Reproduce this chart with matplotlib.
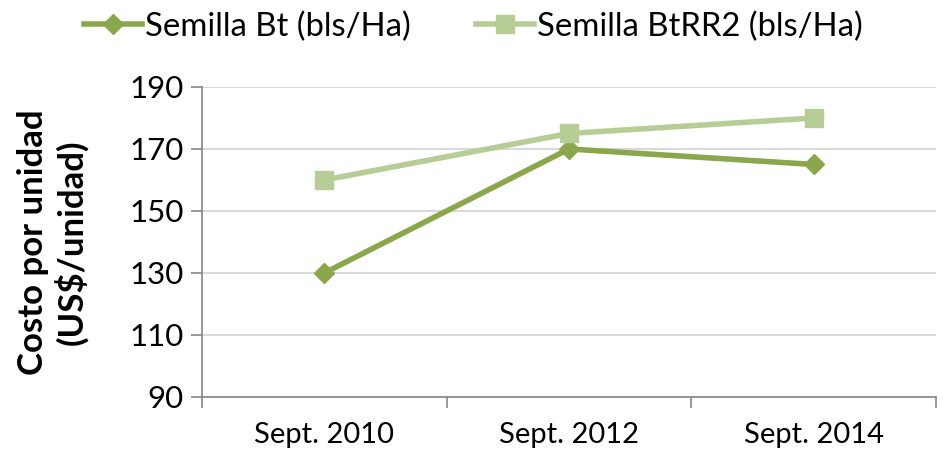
import numpy as np
import matplotlib.pyplot as plt
from matplotlib.ticker import FixedLocator

categories = ["Sept. 2010", "Sept. 2012", "Sept. 2014"]
bt = [130, 170, 165]
btrr2 = [160, 175, 180]
yticks = [90, 110, 130, 150, 170, 190]

plt.rcParams['font.family'] = ['Lato', 'DejaVu Sans']

fig = plt.figure(figsize=(9.47, 4.58), dpi=100)
ax = fig.add_axes([0.2133, 0.1332, 0.7751, 0.6769])

x = np.arange(len(categories))
ax.plot(x, bt, color="#8AA84B", lw=4, marker="D", ms=10,
        label="Semilla Bt (bls/Ha)")
ax.plot(x, btrr2, color="#B7CD95", lw=4, marker="s", ms=13,
        label="Semilla BtRR2 (bls/Ha)")

ax.set_xlim(-0.5, len(categories) - 0.5)
ax.set_ylim(90, 190)
ax.set_yticks(yticks)
ax.set_xticks(x)
ax.set_xticklabels(categories, fontsize=21)
ax.xaxis.set_minor_locator(FixedLocator(np.arange(len(categories) + 1) - 0.5))
ax.tick_params(axis="x", which="major", length=0, pad=18)
ax.tick_params(axis="x", which="minor", length=8, color="#868686", width=1.2)
ax.tick_params(axis="y", labelsize=22.5, length=8, color="#868686", width=1.2, pad=5)

ax.grid(axis="y", color="#D9D9D9", lw=1.5)
ax.set_axisbelow(True)
for s in ["top", "right"]:
    ax.spines[s].set_visible(False)
for s in ["left", "bottom"]:
    ax.spines[s].set_color("#868686")
    ax.spines[s].set_linewidth(1.2)

ax.set_ylabel("Costo por unidad\n(US$/unidad)", fontsize=25, fontweight="bold",
              labelpad=30, linespacing=1.15)

fig.legend(loc="upper center", bbox_to_anchor=(0.5, 1.04), ncol=2,
           frameon=False, fontsize=23.7, handlelength=1.75, columnspacing=2.0,
           handletextpad=0.1)

fig.savefig("out.png", dpi=100)
